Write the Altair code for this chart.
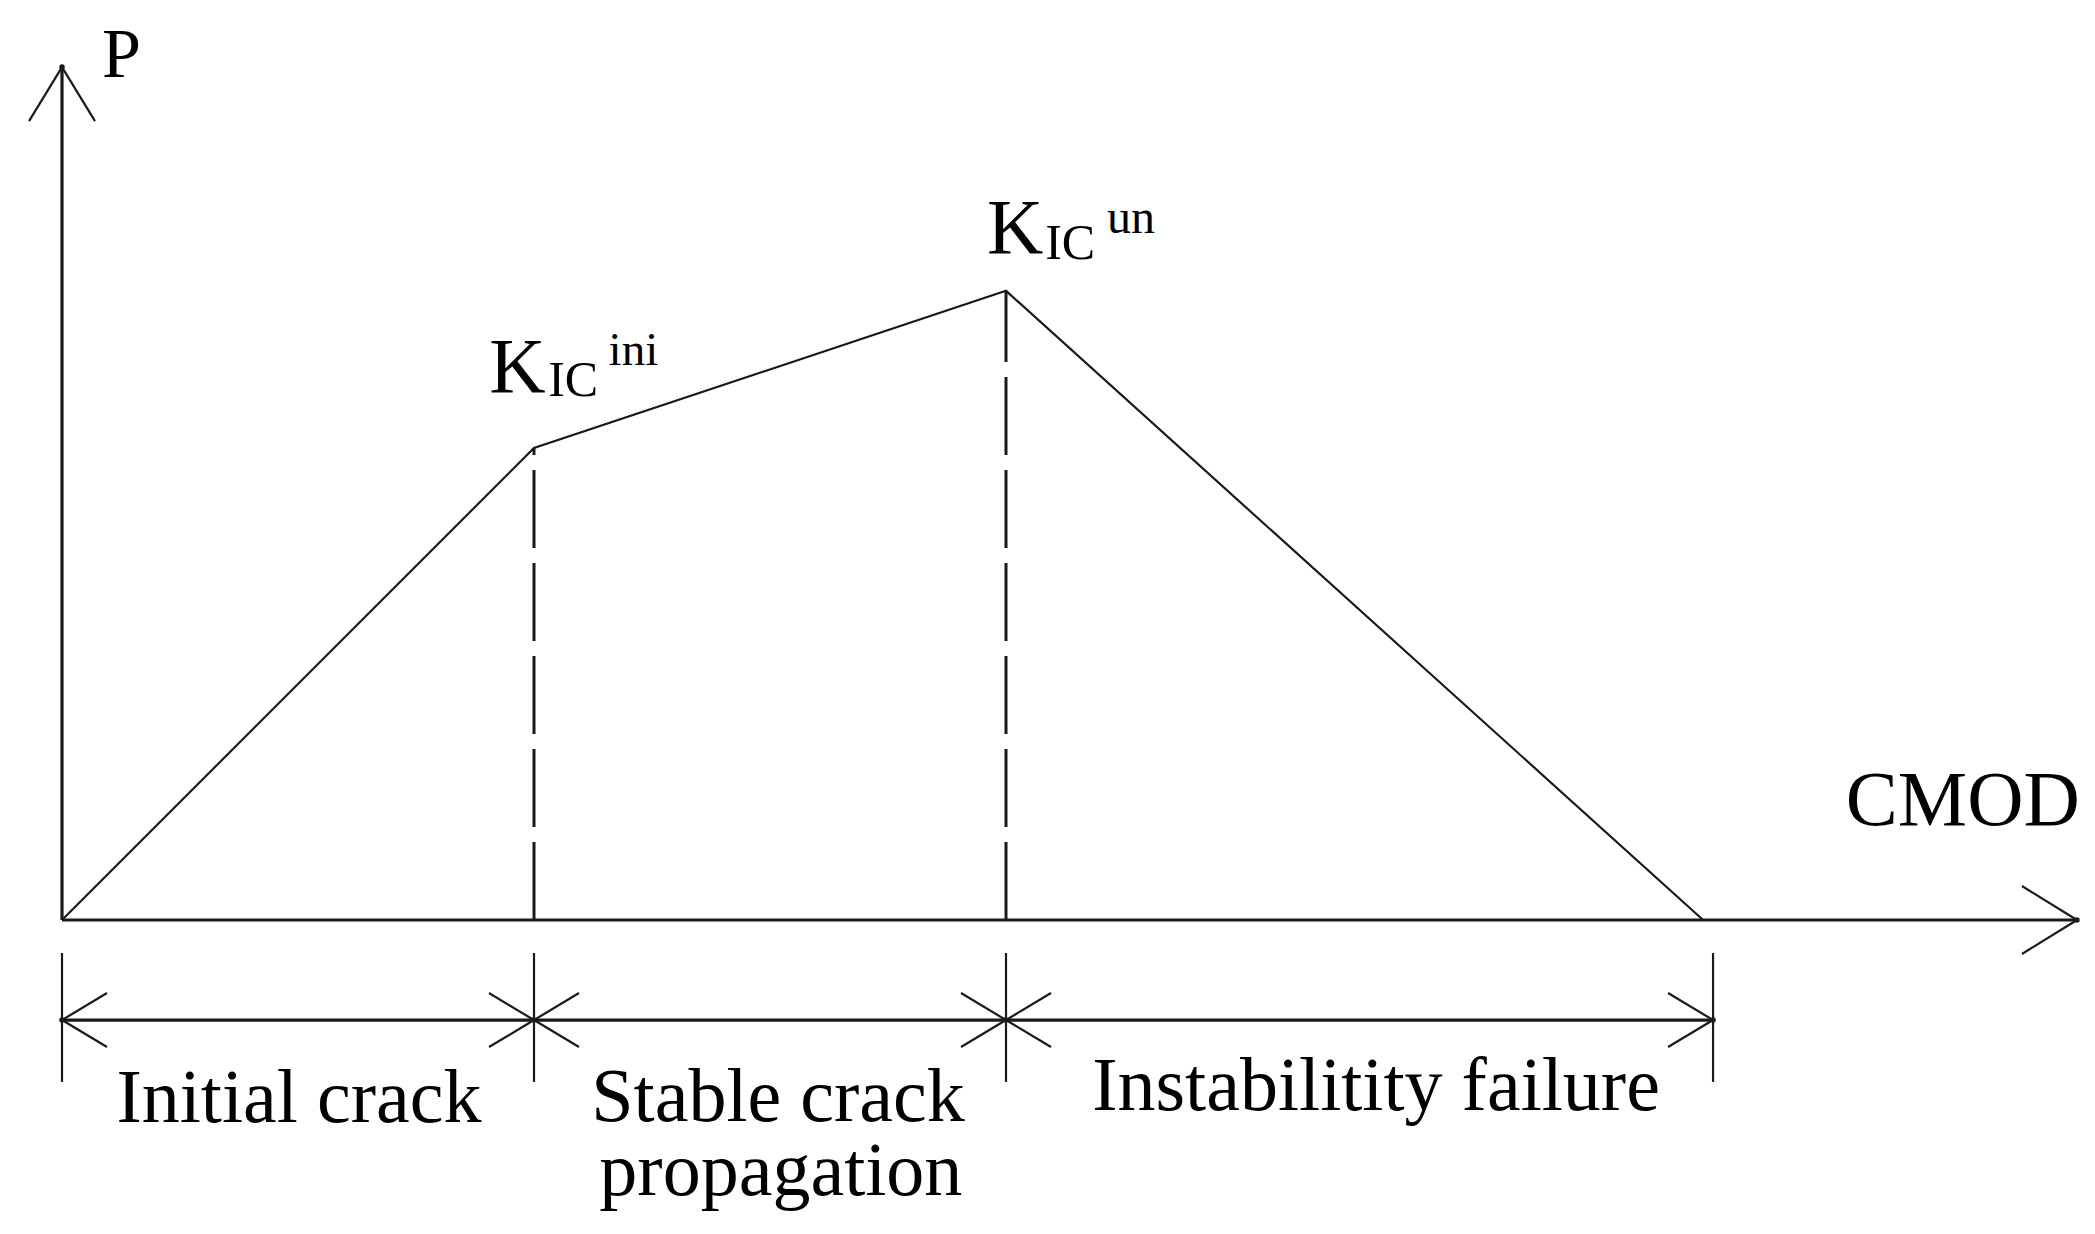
import altair as alt
import pandas as pd

# ---- schematic values (load P vs CMOD) ----
CMOD = [0.0, 1.0, 2.0, 3.477]
P = [0.0, 1.0, 1.333, 0.0]
STAGE_EDGES = [0.0, 1.0, 2.0, 3.498]
X_AXIS_END = 4.269
Y_AXIS_END = 1.807
DIM_LEVEL = -0.212
EXT_TOP = -0.070
EXT_BOTTOM = -0.343

stage_text = ["Initial crack", "Stable crack", "propagation", "Instabilitity failure"]
stage_text_x = [0.502, 1.517, 1.523, 2.784]
stage_text_y = [-0.428, -0.426, -0.582, -0.403]

k_text = ["K", "IC", "ini", "K", "IC", "un"]
k_text_x = [0.905, 1.030, 1.158, 1.960, 2.083, 2.214]
k_text_y = [1.119, 1.110, 1.176, 1.413, 1.400, 1.455]
k_text_size = [78, 50, 47, 78, 50, 48]

axis_text = ["P", "CMOD"]
axis_text_x = [0.085, 4.275]
axis_text_y = [1.787, 0.201]
axis_text_align = ["left", "right"]

# ---- geometry of the drawing ----
PX = 472.0          # pixels per unit, both axes
W, H = 2076, 1216
X0_PX, Y0_PX = 54, 912

xs = alt.Scale(domain=[-X0_PX / PX, (W - X0_PX) / PX], nice=False, zero=False)
ys = alt.Scale(domain=[-(H - Y0_PX) / PX, Y0_PX / PX], nice=False, zero=False)
INK = "#1a1a1a"
FONT = "Liberation Serif"


def wings(tx, ty, dx, dy, along_px, spread_px):
    a, s = along_px / PX, spread_px / PX
    px_, py_ = -dy, dx
    return [
        dict(x=tx, y=ty, x2=tx + dx * a + px_ * s, y2=ty + dy * a + py_ * s),
        dict(x=tx, y=ty, x2=tx + dx * a - px_ * s, y2=ty + dy * a - py_ * s),
    ]


# thick lines: axes + dimension line
thick = pd.DataFrame([
    dict(x=0.0, y=0.0, x2=X_AXIS_END, y2=0.0),
    dict(x=0.0, y=0.0, x2=0.0, y2=Y_AXIS_END),
    dict(x=STAGE_EDGES[0], y=DIM_LEVEL, x2=STAGE_EDGES[-1], y2=DIM_LEVEL),
])

# thin lines: extension ticks and arrow wings
thin_rows = []
for e in STAGE_EDGES:
    thin_rows.append(dict(x=e, y=EXT_TOP, x2=e, y2=EXT_BOTTOM))
thin_rows += wings(X_AXIS_END, 0.0, -1, 0, 55, 34)
thin_rows += wings(0.0, Y_AXIS_END, 0, -1, 54, 33)
thin_rows += wings(STAGE_EDGES[0], DIM_LEVEL, 1, 0, 45, 27)
for e in STAGE_EDGES[1:-1]:
    thin_rows += wings(e, DIM_LEVEL, 1, 0, 45, 27)
    thin_rows += wings(e, DIM_LEVEL, -1, 0, 45, 27)
thin_rows += wings(STAGE_EDGES[-1], DIM_LEVEL, -1, 0, 45, 27)
thin = pd.DataFrame(thin_rows)

dashed = pd.DataFrame([
    dict(x=CMOD[1], y=0.0, x2=CMOD[1], y2=P[1]),
    dict(x=CMOD[2], y=0.0, x2=CMOD[2], y2=P[2]),
])

curve = pd.DataFrame({"cmod": CMOD, "p": P, "order": list(range(len(CMOD)))})

dots = pd.DataFrame({
    "x": [X_AXIS_END, 0.0] + STAGE_EDGES,
    "y": [0.0, Y_AXIS_END] + [DIM_LEVEL] * len(STAGE_EDGES),
})

stage_df = pd.DataFrame({"t": stage_text, "x": stage_text_x, "y": stage_text_y})
k_df = pd.DataFrame({"t": k_text, "x": k_text_x, "y": k_text_y, "s": k_text_size})
ax_df = pd.DataFrame({"t": axis_text, "x": axis_text_x, "y": axis_text_y, "a": axis_text_align})


def rule_layer(df, width, dash=None):
    kw = dict(color=INK, strokeWidth=width)
    if dash is not None:
        kw["strokeDash"] = dash
    return alt.Chart(df).mark_rule(**kw).encode(
        x=alt.X("x:Q", scale=xs, axis=None),
        y=alt.Y("y:Q", scale=ys, axis=None),
        x2="x2:Q",
        y2="y2:Q",
    )


thick_layer = rule_layer(thick, 3.2)
thin_layer = rule_layer(thin, 2.2)
dash_layer = rule_layer(dashed, 3.0, [78, 15])

curve_layer = alt.Chart(curve).mark_line(color=INK, strokeWidth=2.2).encode(
    x=alt.X("cmod:Q", scale=xs, axis=None),
    y=alt.Y("p:Q", scale=ys, axis=None),
    order="order:Q",
)

dot_layer = alt.Chart(dots).mark_point(filled=True, color=INK, size=30, opacity=1).encode(
    x=alt.X("x:Q", scale=xs, axis=None),
    y=alt.Y("y:Q", scale=ys, axis=None),
)

stage_layer = alt.Chart(stage_df).mark_text(
    font=FONT, fontSize=76, color="black", align="center", baseline="alphabetic"
).encode(
    x=alt.X("x:Q", scale=xs, axis=None),
    y=alt.Y("y:Q", scale=ys, axis=None),
    text="t:N",
)

k_layer = alt.Chart(k_df).mark_text(
    font=FONT, color="black", align="left", baseline="alphabetic"
).encode(
    x=alt.X("x:Q", scale=xs, axis=None),
    y=alt.Y("y:Q", scale=ys, axis=None),
    text="t:N",
    size=alt.Size("s:Q", scale=None, legend=None),
)

ax_left = alt.Chart(ax_df[ax_df["a"] == "left"]).mark_text(
    font=FONT, fontSize=70, color="black", align="left", baseline="alphabetic"
).encode(
    x=alt.X("x:Q", scale=xs, axis=None),
    y=alt.Y("y:Q", scale=ys, axis=None),
    text="t:N",
)
ax_right = alt.Chart(ax_df[ax_df["a"] == "right"]).mark_text(
    font=FONT, fontSize=78, color="black", align="right", baseline="alphabetic"
).encode(
    x=alt.X("x:Q", scale=xs, axis=None),
    y=alt.Y("y:Q", scale=ys, axis=None),
    text="t:N",
)

chart = alt.layer(
    dash_layer, thick_layer, thin_layer, curve_layer, dot_layer,
    stage_layer, k_layer, ax_left, ax_right,
).properties(
    width=W, height=H, padding=0, autosize=alt.AutoSizeParams(type="none"),
    background="white",
).configure_view(strokeWidth=0)

chart.save("out.html", embed_options={"renderer": "svg", "actions": False})
